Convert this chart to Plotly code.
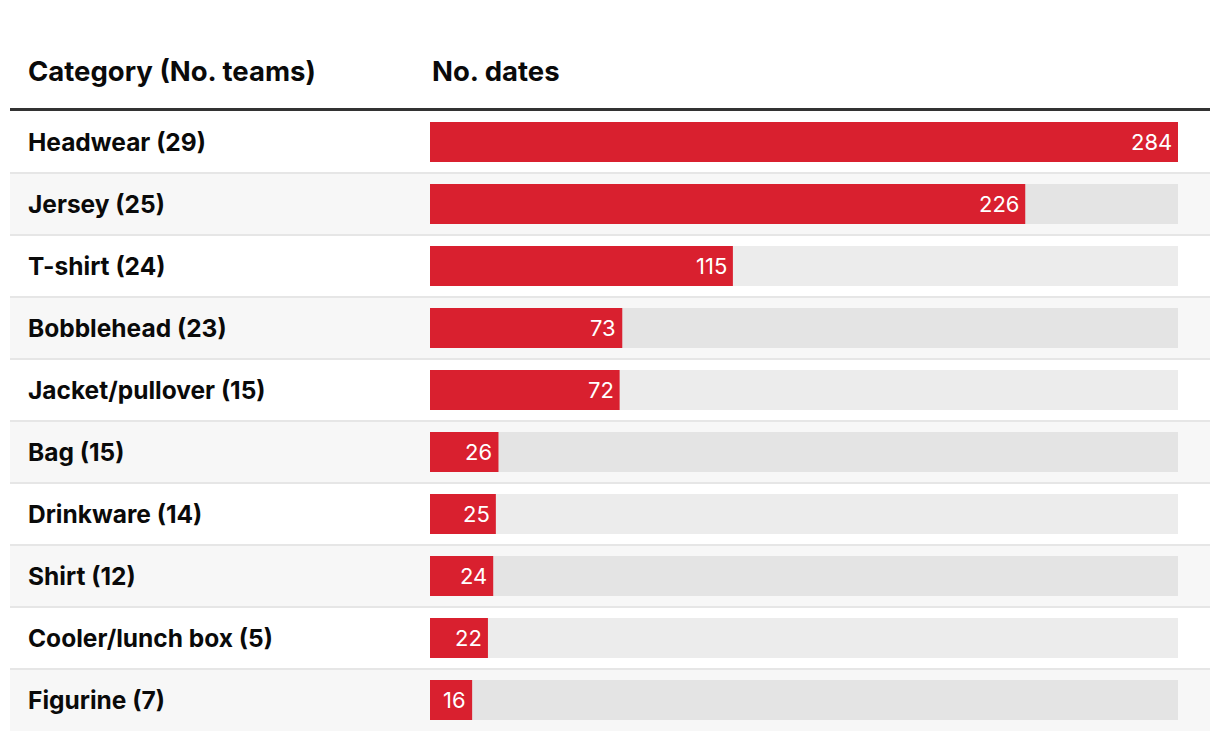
import plotly.graph_objects as go

categories = ["Headwear (29)", "Jersey (25)", "T-shirt (24)", "Bobblehead (23)",
              "Jacket/pullover (15)", "Bag (15)", "Drinkware (14)", "Shirt (12)",
              "Cooler/lunch box (5)", "Figurine (7)"]
values = [284, 226, 115, 73, 72, 26, 25, 24, 22, 16]
header_left = "Category (No. teams)"
header_right = "No. dates"

# page offset of 8px (default body margin) -> work in figure coords = page - 8
OFF = 8
W, H = 1212, 732
ML = 430 - OFF
MR = W - (1178 - OFF)
MT = 111 - OFF
MB = H - (731 - OFF)
plot_w = W - ML - MR
plot_h = H - MT - MB
FONT = "Inter"
RED = "#d9202f"

vmax = max(values)
n = len(categories)

fig = go.Figure()
fig.add_trace(go.Bar(
    y=categories, x=[vmax] * n, orientation="h",
    marker=dict(color="rgba(0,0,0,0.075)", line=dict(width=0)),
    width=0.645, hoverinfo="skip", showlegend=False,
))
fig.add_trace(go.Bar(
    y=categories, x=values, orientation="h",
    marker=dict(color=RED, line=dict(width=0)),
    width=0.645, showlegend=False,
))

x0p = (10 - OFF - ML) / plot_w
x1p = (1210 - OFF - ML) / plot_w
shapes = []
for i in range(n):
    shapes.append(dict(type="rect", xref="paper", yref="y", x0=x0p, x1=x1p,
                       y0=i - 0.5, y1=i + 0.5, layer="below", line=dict(width=0),
                       fillcolor="#ffffff" if i % 2 == 0 else "#f7f7f7"))
for i in range(n - 1):
    shapes.append(dict(type="line", xref="paper", yref="y", x0=x0p, x1=x1p,
                       y0=i + 0.5, y1=i + 0.5, layer="below",
                       line=dict(color="#e6e6e6", width=2)))
ly = 1 + 1.5 / plot_h
shapes.append(dict(type="line", xref="paper", yref="paper", x0=x0p, x1=x1p,
                   y0=ly, y1=ly, line=dict(color="#333333", width=3)))

LX = (26 - OFF - ML) / plot_w
annotations = []
for c, v in zip(categories, values):
    annotations.append(dict(x=LX, xref="paper", y=c, yref="y",
                            text=f"<b>{c}</b>", showarrow=False, xanchor="left",
                            font=dict(family=FONT, size=24.5, color="#0a0a0a")))
    annotations.append(dict(x=v, xref="x", y=c, yref="y", text=str(v),
                            showarrow=False, xanchor="right", xshift=-4,
                            font=dict(family=FONT, size=22, color="white")))
hy = 1 + (111 - 71) / plot_h
annotations.append(dict(x=LX, xref="paper", y=hy, yref="paper",
                        text=f"<b>{header_left}</b>", showarrow=False, xanchor="left",
                        yanchor="middle", font=dict(family=FONT, size=27.5, color="#0a0a0a")))
annotations.append(dict(x=(430 - OFF - ML) / plot_w, xref="paper", y=hy, yref="paper",
                        text=f"<b>{header_right}</b>", showarrow=False, xanchor="left",
                        yanchor="middle", font=dict(family=FONT, size=27.5, color="#0a0a0a")))

fig.update_layout(
    width=W, height=H, barmode="overlay",
    margin=dict(l=ML, r=MR, t=MT, b=MB, pad=0),
    plot_bgcolor="rgba(0,0,0,0)", paper_bgcolor="white",
    xaxis=dict(range=[0, vmax], visible=False, fixedrange=True),
    yaxis=dict(range=[n - 0.5, -0.5], visible=False, fixedrange=True,
               categoryorder="array", categoryarray=categories),
    shapes=shapes, annotations=annotations,
)
fig.write_html("out.html", config={"displayModeBar": False})
